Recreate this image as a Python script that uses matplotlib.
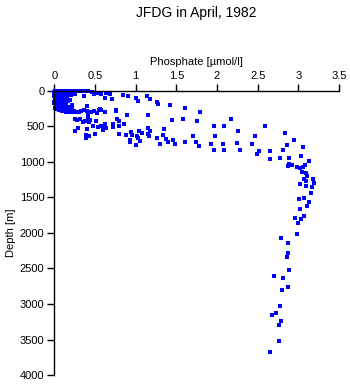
import matplotlib
matplotlib.use("Agg")
import matplotlib.pyplot as plt

# phosphate [umol/l] and depth [m]
phosphate = [
    # surface cluster
    0.01, 0.02, 0.03, 0.05, 0.07, 0.09, 0.11, 0.13, 0.15, 0.17, 0.20, 0.23, 0.26, 0.29, 0.31,
    0.00, 0.02, 0.04, 0.06, 0.08, 0.10, 0.12, 0.14, 0.16, 0.18, 0.21, 0.25,
    0.01, 0.03, 0.05, 0.07, 0.09, 0.11, 0.13, 0.15, 0.02, 0.04, 0.06, 0.08, 0.10, 0.12,
    0.01, 0.03, 0.05, 0.07, 0.09, 0.11, 0.14, 0.17, 0.02, 0.04, 0.06, 0.08, 0.10, 0.12,
    0.15, 0.18, 0.03, 0.05, 0.07, 0.09, 0.11, 0.13, 0.16, 0.20, 0.22, 0.24, 0.06, 0.10,
    0.14, 0.19, 0.23, 0.27, 0.30, 0.33, 0.36, 0.40, 0.45, 0.49, 0.53, 0.58, 0.62,
    0.00, 0.01, 0.02, 0.03, 0.04, 0.00, 0.01, 0.03, 0.05, 0.02, 0.04, 0.06,
    0.00, 0.02, 0.04, 0.06, 0.08, 0.01, 0.03, 0.05, 0.07, 0.00, 0.02, 0.04, 0.06, 0.08,
    0.01, 0.03, 0.05, 0.07, 0.09, 0.00, 0.02, 0.04, 0.06, 0.08, 0.12, 0.16, 0.19, 0.22,
    # near-surface row
    0.34, 0.38, 0.42, 0.46, 0.50, 0.54, 0.58, 0.64, 0.68, 0.57,
    # upper thermocline
    0.36, 0.49, 0.62, 0.71, 0.84, 0.91, 1.01, 1.03, 1.14, 1.18, 1.26, 1.28, 1.42, 1.61, 1.79,
    0.40, 0.56, 0.76, 0.89, 0.41, 1.15, 1.45, 1.58, 1.75, 0.28, 0.35, 0.80, 0.86, 0.72, 0.64,
    0.29, 0.40, 0.60, 0.26, 0.50, 0.39, 0.43, 0.39, 0.80, 0.88, 1.15, 1.17, 1.33, 1.03, 1.05,
    0.93, 0.93, 1.01, 1.26, 1.37, 1.40, 1.30, 1.48, 1.61, 1.70, 1.74, 1.78, 1.46,
    0.26, 0.32, 0.38, 0.42, 0.44, 0.43, 0.47, 0.51, 0.54, 0.57, 0.60, 0.62, 0.72, 0.77, 0.79,
    0.76, 0.55, 1.15, 1.18, 1.35, 1.04, 1.08, 0.94, 0.95, 1.02,
    # lower thermocline
    2.17, 1.96, 2.08, 1.98, 1.93, 2.07, 1.96, 2.09, 2.26, 2.25, 2.28, 2.47, 2.43, 2.51, 2.49,
    2.59, 2.65, 2.65, 2.77, 2.81, 2.84, 2.86, 2.94, 2.89, 3.06, 3.03, 3.13,
    # phosphate maximum
    2.89, 2.92, 2.87, 2.98, 3.02, 3.06, 3.08, 3.04, 3.09, 3.10, 3.07, 3.09, 3.18, 3.19, 3.02,
    3.09, 3.17, 3.16, 3.01, 3.07, 3.13, 3.11, 3.02, 2.96, 3.03, 3.07, 2.99,
    # deep water
    2.98, 2.79, 2.87, 2.87, 2.86, 2.89, 2.70, 2.81, 2.87, 2.80, 2.77, 2.72, 2.67, 2.79, 2.76,
    2.76, 2.65,
]
depth = [
    5, 10, 0, 5, 10, 0, 5, 10, 0, 5, 3, 8, 5, 10, 2,
    30, 40, 35, 45, 30, 50, 40, 55, 35, 45, 60, 50,
    70, 80, 90, 75, 95, 85, 100, 80, 110, 120, 105, 130, 115, 140,
    150, 160, 145, 170, 155, 180, 165, 150, 190, 200, 185, 210, 195, 220,
    205, 230, 230, 240, 255, 245, 265, 250, 275, 260, 245, 280, 270, 290,
    300, 305, 300, 295, 305, 290, 275, 285, 300, 290, 310, 275, 300,
    60, 20, 130, 250, 90, 180, 240, 200, 60, 260, 15, 120,
    15, 20, 25, 20, 15, 45, 55, 60, 50, 75, 95, 65, 85, 70,
    105, 125, 115, 140, 130, 165, 175, 160, 150, 175, 120, 110, 130, 200,
    4, 4, 4, 18, 28, 28, 37, 28, 51, 46,
    74, 51, 98, 121, 65, 74, 98, 145, 79, 121, 163, 183, 201, 247, 295,
    211, 261, 275, 342, 346, 342, 412, 394, 430, 412, 440, 430, 472, 506, 528,
    524, 543, 557, 566, 604, 623, 632, 665, 604, 627, 604, 641, 627, 665, 707,
    693, 725, 759, 669, 679, 717, 753, 753, 721, 641, 725, 773, 689,
    400, 402, 422, 388, 412, 436, 492, 422, 514, 496, 506, 472, 472, 402, 492,
    285, 271, 528, 562, 543, 571, 599, 585, 618, 632,
    398, 500, 500, 641, 745, 753, 838, 838, 566, 739, 833, 641, 745, 852, 885,
    500, 852, 964, 950, 838, 595, 763, 693, 950, 795, 918, 992,
    1034, 1048, 1063, 1077, 1091, 1068, 1044, 1147, 1161, 1203, 1245, 1273, 1245, 1293, 1307,
    1335, 1349, 1442, 1526, 1512, 1569, 1625, 1667, 1793, 1799, 1765, 1855,
    2018, 2070, 2145, 2285, 2333, 2524, 2609, 2628, 2763, 2805, 3030, 3129, 3148, 3241, 3289,
    3522, 3677,
]

x_ticks = [0, 0.5, 1, 1.5, 2, 2.5, 3, 3.5]
x_tick_labels = ["0", "0.5", "1", "1.5", "2", "2.5", "3", "3.5"]
y_ticks = [0, 500, 1000, 1500, 2000, 2500, 3000, 3500, 4000]

plt.rcParams["font.family"] = ["Liberation Sans", "DejaVu Sans"]

fig = plt.figure(figsize=(3.5, 3.84), dpi=100)
ax = fig.add_axes([0.155, 0.023, 0.814, 0.741])

ax.plot(phosphate, depth, "s", color="#0000ff", markersize=2.3,
        markeredgewidth=0, clip_on=False)

ax.set_xlim(0, 3.5)
ax.set_ylim(4000, 0)
ax.xaxis.set_ticks_position("top")
ax.xaxis.set_label_position("top")
ax.set_xticks(x_ticks)
ax.set_xticklabels(x_tick_labels)
ax.set_yticks(y_ticks)
ax.tick_params(direction="out", length=5, width=1, labelsize=8, pad=2)

for side in ["right", "bottom"]:
    ax.spines[side].set_visible(False)
for side in ["left", "top"]:
    ax.spines[side].set_linewidth(1)

ax.set_xlabel("Phosphate [µmol/l]", fontsize=8, labelpad=4)
ax.set_ylabel("Depth [m]", fontsize=8, labelpad=3)
fig.text(0.56, 0.965, "JFDG in April, 1982", ha="center", va="center", fontsize=10)

fig.savefig("out.png", dpi=100)
